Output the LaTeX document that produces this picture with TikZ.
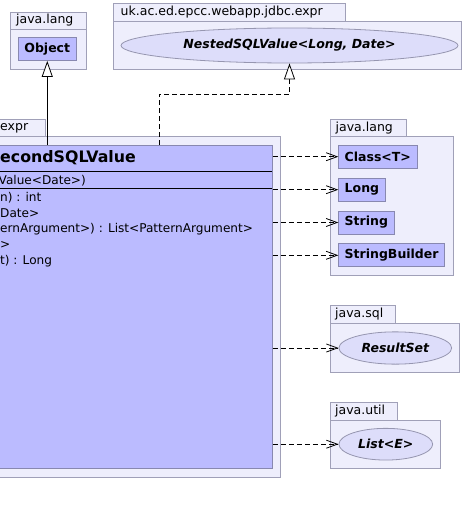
\documentclass[tikz,border=0pt]{standalone}
\usepackage{fontspec}
\setmainfont{DejaVu Sans}
\usetikzlibrary{arrows.meta,shapes.geometric}
\definecolor{pkgfill}{RGB}{238,238,252}
\definecolor{pkgline}{RGB}{160,160,184}
\definecolor{clsfill}{RGB}{187,187,255}
\definecolor{clsline}{RGB}{136,136,176}
\definecolor{iffill}{RGB}{221,221,250}
\definecolor{ifline}{RGB}{150,150,176}
\newcommand{\umlfont}{\fontsize{12.5}{14}\selectfont}
\newcommand{\memberfont}{\fontsize{12.1}{14}\selectfont}
\tikzset{
	pkg/.style={draw=pkgline,fill=pkgfill,line width=0.8pt},
	pkgname/.style={anchor=west,inner sep=0pt,font=\umlfont},
	member/.style={anchor=west,inner sep=0pt,font=\memberfont},
	cls/.style={anchor=west,draw=clsline,fill=clsfill,line width=0.8pt,inner xsep=6pt,inner ysep=0pt,minimum height=23pt,font=\umlfont\bfseries},
	iface/.style={ellipse,draw=ifline,fill=iffill,line width=0.8pt,inner sep=0pt,font=\umlfont\bfseries\itshape},
	dep/.style={dash pattern=on 5pt off 3pt,line width=0.8pt,-{Straight Barb[length=11pt,width=8pt]}},
	real/.style={dash pattern=on 5pt off 3pt,line width=0.8pt,-{Triangle[open,fill=white,length=16pt,width=11pt]}},
	inherit/.style={line width=0.8pt,-{Triangle[open,fill=white,length=16pt,width=11pt]}},
}
\begin{document}
\begin{tikzpicture}[x=1pt,y=-1pt]
	%Cadre
	\useasboundingbox (0,0) rectangle (469,514) ;
	\clip (0,0) rectangle (469,514) ;
	%Paquets
	\draw [pkg]		(10,12)		rectangle (86,29)		;
	\draw [pkg]		(10,29)		rectangle (86,69)		;
	\draw [pkg]		(113,3)		rectangle (345,21)		;
	\draw [pkg]		(113,21)	rectangle (461,69)		;
	\draw [pkg]		(-5,119)	rectangle (45,136)		;
	\draw [pkg]		(-5,136)	rectangle (280,477)		;
	\draw [pkg]		(330.7,119.3)	rectangle (406.7,136)	;
	\draw [pkg]		(330.7,136)	rectangle (453.3,275)	;
	\draw [pkg]		(330,305)	rectangle (395.7,323.3)	;
	\draw [pkg]		(330,323.3)	rectangle (459.3,372)	;
	\draw [pkg]		(330,402.3)	rectangle (397.3,420)	;
	\draw [pkg]		(330,420)	rectangle (440.3,468.3)	;
	%Noms des paquets
	\path	(16,20.5)	node [pkgname]	(langleft)	{java.lang}	;
	\path	(120.5,12)	node [pkgname]	(exprtop)	{uk.ac.ed.epcc.webapp.jdbc.expr}	;
	\path	(0,128)		node [pkgname]	(exprleft)	{expr}		;
	\path	(335.5,128)	node [pkgname]	(langright)	{java.lang}	;
	\path	(335,314)	node [pkgname]	(sql)		{java.sql}	;
	\path	(335,411)	node [pkgname]	(util)		{java.util}	;
	%Classe
	\path	(-5,145)	node [anchor=north west,draw=clsline,fill=clsfill,line width=0.8pt,minimum width=277pt,minimum height=323pt,inner sep=0pt]	(dateclass)	{}	;
	\draw [line width=0.8pt]	(-5,171)	-- (272,171)	;
	\draw [line width=0.8pt]	(-5,188.7)	-- (272,188.7)	;
	\path	(0,158)		node [member,font=\fontsize{15.8}{18}\selectfont\bfseries]	(title)	{econdSQLValue}	;
	\path	(-1.5,180.5)	node [member]	(ctor)		{Value<Date>)}	;
	\path	(0,197.3)	node [member]	(opint)		{n) : int}	;
	\path	(0,213.3)	node [member]	(opdate)	{Date>}		;
	\path	(0,229.3)	node [member]	(oplist)	{ernArgument>) : List<PatternArgument>}	;
	\path	(0,245)		node [member]	(opgt)		{>}		;
	\path	(0,261.5)	node [member]	(oplong)	{t) : Long}	;
	%Classes et interfaces
	\path	(18,49)		node [cls]	(object)	{Object}	;
	\path	(338.3,156.7)	node [cls]	(classT)	{Class<T>}	;
	\path	(338.3,189.7)	node [cls]	(long)		{Long}		;
	\path	(338.3,222.5)	node [cls]	(string)	{String}	;
	\path	(338.3,255.3)	node [cls]	(builder)	{StringBuilder}	;
	\path	(289.5,45.5)	node [iface,minimum width=337pt,minimum height=35pt]	(nested)	{NestedSQLValue<Long, Date>}	;
	\path	(395.3,348)	node [iface,minimum width=112.7pt,minimum height=32.3pt]	(resultset)	{ResultSet}	;
	\path	(385.8,444.2)	node [iface,minimum width=93.7pt,minimum height=31.7pt]	(list)		{List<E>}	;
	%Fleches
	\coordinate (implfoot) at (159,145) ;
	\draw [inherit]	(object.south |- dateclass.north)	-- (object.south)	;
	\draw [real]	(implfoot) -- (159,94) -| (nested.south)	;
	\draw [dep]	(classT.west -| dateclass.east)		-- (classT.west)	;
	\draw [dep]	(long.west -| dateclass.east)		-- (long.west)		;
	\draw [dep]	(string.west -| dateclass.east)		-- (string.west)	;
	\draw [dep]	(builder.west -| dateclass.east)	-- (builder.west)	;
	\draw [dep]	(resultset.west -| dateclass.east)	-- (resultset.west)	;
	\draw [dep]	(list.west -| dateclass.east)		-- (list.west)		;
\end{tikzpicture}
\end{document}
